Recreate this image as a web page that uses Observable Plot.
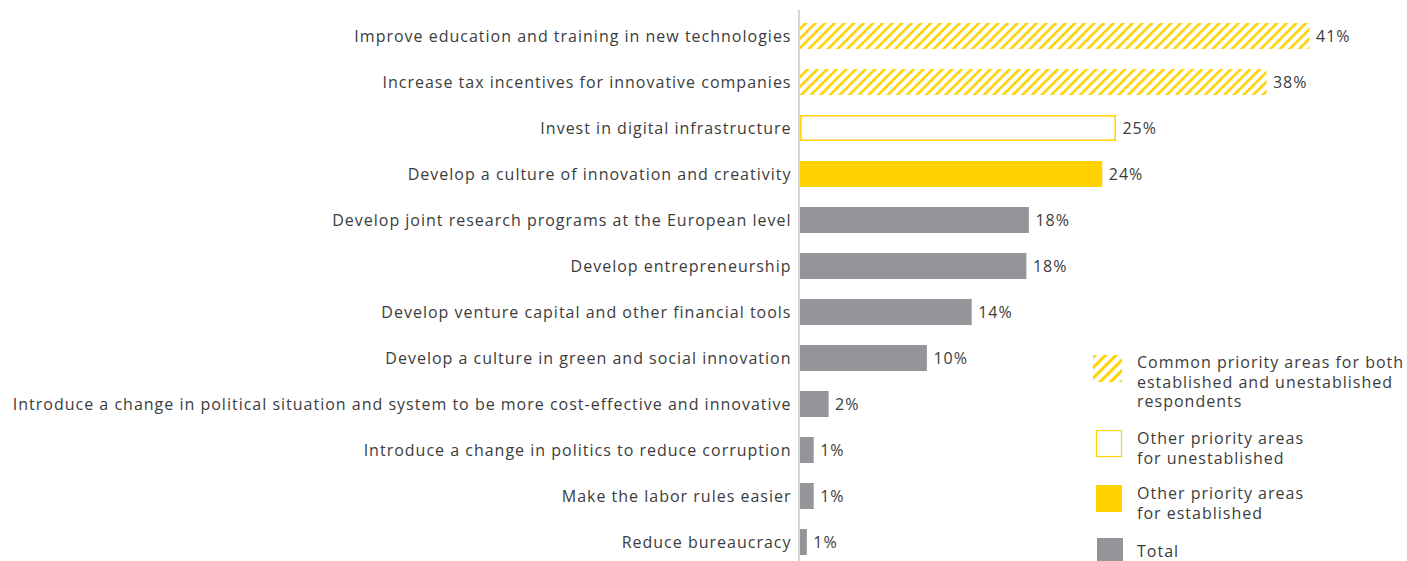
<!DOCTYPE html>
<html>
<head>
<meta charset="utf-8">
<script src="https://cdn.jsdelivr.net/npm/d3@7"></script>
<script src="https://cdn.jsdelivr.net/npm/@observablehq/plot@0.6"></script>
<style>
  html, body { margin: 0; padding: 0; background: #fff; overflow: hidden; }
  #wrap { position: relative; width: 1407px; height: 561px; font-family: "Open Sans", sans-serif; color: #3c3c3c; }
  #legend { position: absolute; left: 1093px; top: 0; width: 314px; }
  .item { position: absolute; left: 0; display: flex; }
  .item svg { flex: none; }
  .item .lab { position: absolute; left: 44px; font-size: 16px; line-height: 19.5px; letter-spacing: 1px; white-space: nowrap; }
  #chart svg text { letter-spacing: 1px; }
</style>
</head>
<body>
<div id="wrap"><div id="chart"></div><div id="legend"></div></div>
<script>
const categories = [
  "Improve education and training in new technologies",
  "Increase tax incentives for innovative companies",
  "Invest in digital infrastructure",
  "Develop a culture of innovation and creativity",
  "Develop joint research programs at the European level",
  "Develop entrepreneurship",
  "Develop venture capital and other financial tools",
  "Develop a culture in green and social innovation",
  "Introduce a change in political situation and system to be more cost-effective and innovative",
  "Introduce a change in politics to reduce corruption",
  "Make the labor rules easier",
  "Reduce bureaucracy"
];
const values = [40.96, 37.5, 25.4, 24.3, 18.4, 18.2, 13.8, 10.2, 2.3, 1.1, 1.1, 0.55];
const valueLabels = ["41%", "38%", "25%", "24%", "18%", "18%", "14%", "10%", "2%", "1%", "1%", "1%"];
const groups = ["common", "common", "unestablished", "established", "total", "total", "total", "total", "total", "total", "total", "total"];

const legendKeys = ["common", "unestablished", "established", "total"];
const legendLabels = [
  ["Common priority areas for both", "established and unestablished", "respondents"],
  ["Other priority areas", "for unestablished"],
  ["Other priority areas", "for established"],
  ["Total"]
];

const YELLOW = "#FFD200";
const GRAY = "#939598";
const TEXT = "#3c3c3c";

const data = categories.map((c, i) => ({cat: c, value: values[i], label: valueLabels[i], group: groups[i]}));

const chart = Plot.plot({
  width: 1407,
  height: 561,
  marginTop: 10,
  marginBottom: 0,
  marginLeft: 0,
  marginRight: 0,
  style: {fontFamily: "'Open Sans', sans-serif", fontSize: "16px", color: TEXT, background: "transparent"},
  x: {domain: [0, 41], range: [800, 1310], axis: null},
  y: {domain: categories, range: [13, 565], paddingInner: 0.43, paddingOuter: 0.215, axis: null},
  marks: [
    Plot.barX(data, {filter: d => d.group === "common", x: "value", y: "cat", fill: "url(#hatch)"}),
    Plot.barX(data, {filter: d => d.group === "unestablished", x: "value", y: "cat", fill: "white", stroke: YELLOW, strokeWidth: 1.5, inset: 0.75}),
    Plot.barX(data, {filter: d => d.group === "established", x: "value", y: "cat", fill: YELLOW}),
    Plot.barX(data, {filter: d => d.group === "total", x: "value", y: "cat", fill: GRAY}),
    Plot.ruleX([0], {stroke: "#c8c8c8", strokeWidth: 1.5, dx: -1.5}),
    Plot.text(data, {x: 0, y: "cat", text: "cat", textAnchor: "end", dx: -9, fill: TEXT}),
    Plot.text(data, {x: "value", y: "cat", text: "label", textAnchor: "start", dx: 6, fill: TEXT})
  ]
});

const defs = d3.select(chart).insert("defs", ":first-child");
const pat = defs.append("pattern")
  .attr("id", "hatch")
  .attr("patternUnits", "userSpaceOnUse")
  .attr("width", 6.8).attr("height", 6.8)
  .attr("patternTransform", "rotate(45)");
pat.append("rect").attr("width", 2.6).attr("height", 6.8).attr("fill", YELLOW);
const pat2 = defs.append("pattern")
  .attr("id", "hatchLegend")
  .attr("patternUnits", "userSpaceOnUse")
  .attr("width", 7.5).attr("height", 7.5)
  .attr("patternTransform", "rotate(45)");
pat2.append("rect").attr("width", 3).attr("height", 7.5).attr("fill", YELLOW);

document.getElementById("chart").appendChild(chart);

// Legend (HTML)
const legendTops = [355, 430, 485, 538];
const labelTops = [353, 429, 484, 542];
const legend = d3.select("#legend");
legendKeys.forEach((k, i) => {
  const item = legend.append("div").attr("class", "item").style("top", legendTops[i] + "px");
  const sw = item.append("svg").attr("width", 30).attr("height", 28);
  if (k === "common") sw.append("rect").attr("width", 29).attr("height", 27).attr("fill", "url(#hatchLegend)");
  if (k === "unestablished") sw.append("rect").attr("x", 3.5).attr("y", 0.5).attr("width", 25).attr("height", 26).attr("fill", "white").attr("stroke", YELLOW).attr("stroke-width", 1.2);
  if (k === "established") sw.append("rect").attr("x", 3).attr("y", 0).attr("width", 26).attr("height", 27).attr("fill", YELLOW);
  if (k === "total") sw.append("rect").attr("x", 4).attr("y", 0).attr("width", 26).attr("height", 23).attr("fill", GRAY);
  item.append("div").attr("class", "lab")
    .style("top", (labelTops[i] - legendTops[i]) + "px")
    .html(legendLabels[i].join("<br>"));
});
</script>
</body>
</html>
